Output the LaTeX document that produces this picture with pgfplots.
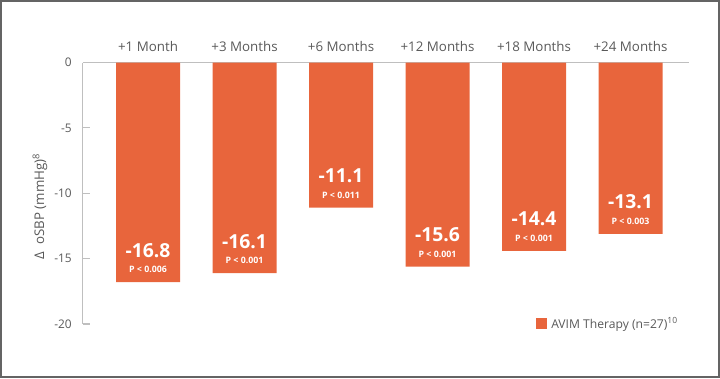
\documentclass[border=0pt]{standalone}
\usepackage{fontspec}
\setmainfont{Open Sans}
\usepackage{pgfplots}
\pgfplotsset{compat=1.18}
\definecolor{barc}{RGB}{232,101,60}
\definecolor{txt}{RGB}{89,89,89}
\definecolor{axc}{RGB}{191,191,191}
\definecolor{frm}{RGB}{100,100,100}
\begin{document}
\begin{tikzpicture}
\useasboundingbox (0,0) rectangle (540pt,283.5pt);
\draw[frm, line width=1.5pt] (0.75pt,0.75pt) rectangle (539.25pt,282.75pt);
\begin{axis}[
  at={(62.25pt,40.5pt)}, anchor=south west,
  scale only axis, width=454.5pt, height=196pt,
  ybar, bar width=48pt, bar shift=0pt,
  xmin=-0.674, xmax=5.606, ymin=-20, ymax=0,
  clip=false,
  axis x line=top, axis y line=left,
  axis line style={axc, line width=0.75pt, -},
  every outer x axis line/.append style={-},
  every outer y axis line/.append style={-},
  xtick={0,1,2,3,4,5},
  xticklabels={+1 Month,+3 Months,+6 Months,+12 Months,+18 Months,+24 Months},
  major x tick style={draw=none},
  xticklabel style={anchor=base, yshift=8.25pt, inner sep=0pt, text=txt, font=\fontsize{10}{12}\selectfont},
  ytick={-20,-15,-10,-5,0},
  tick align=inside,
  major tick length=5.25pt,
  ytick style={axc, line width=0.75pt},
  yticklabel style={inner sep=0pt, xshift=-8.25pt, text=txt, font=\fontsize{8.9}{10}\selectfont},
  /pgf/number format/assume math mode=true,
  ylabel={Δ\ \ oSBP (mmHg)\textsuperscript{8}},
  ylabel style={at={(axis description cs:-0.071,0.45)}, anchor=center, text=txt, font=\fontsize{10}{12}\selectfont},
  legend style={at={(axis description cs:0.7475,0.002)}, anchor=west, draw=none, fill=none, inner sep=0pt,
    nodes={inner sep=0pt}, text=txt, font=\fontsize{9.1}{11}\selectfont,
    /tikz/every odd column/.append style={column sep=3pt}},
  legend image code/.code={\fill[barc] (0pt,-4.1pt) rectangle (8.25pt,4.1pt);},
]
\addplot[fill=barc, draw=none, point meta=explicit symbolic, nodes near coords,
  every node near coord/.style={anchor=base, yshift=18.75pt, text=white, inner sep=0pt, font=\bfseries\fontsize{14.5}{16}\selectfont}]
  coordinates {(0,-16.8) [-16.8] (1,-16.1) [-16.1] (2,-11.1) [-11.1] (3,-15.6) [-15.6] (4,-14.4) [-14.4] (5,-13.1) [-13.1]};
\addlegendentry{AVIM Therapy (n=27)\textsuperscript{10}}
\addplot[fill=none, draw=none, forget plot, point meta=explicit symbolic, nodes near coords,
  every node near coord/.style={anchor=base, yshift=7.1pt, text=white, inner sep=0pt, font=\bfseries\fontsize{6.6}{8}\selectfont}]
  coordinates {(0,-16.8) [P < 0.006] (1,-16.1) [P < 0.001] (2,-11.1) [P < 0.011] (3,-15.6) [P < 0.001] (4,-14.4) [P < 0.001] (5,-13.1) [P < 0.003]};
\end{axis}
\end{tikzpicture}
\end{document}
